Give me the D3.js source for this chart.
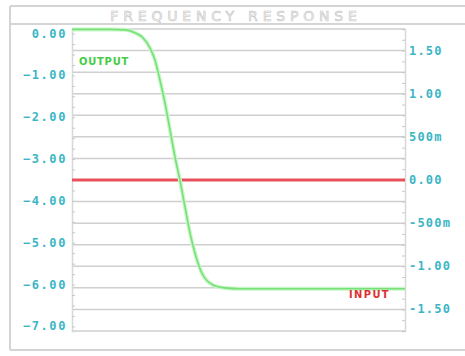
<!DOCTYPE html>
<html>
<head>
<meta charset="utf-8">
<script src="https://cdn.jsdelivr.net/npm/d3@7"></script>
<style>
  body { margin: 0; background: #fff; }
  svg { display: block; }
</style>
</head>
<body>
<script>
// frequency response data (x: Hz, log scale; output on left axis, input on right axis)
let freq = [10, 37, 63, 88, 116, 148, 176, 209, 249, 296, 352, 419, 498, 592, 703, 895, 1310, 1980, 3330, 1000000];
let output = [0.10, 0.10, 0.09, 0.02, -0.10, -0.34, -0.63, -1.11, -1.66, -2.30, -2.95, -3.52, -4.15, -4.77, -5.25, -5.73, -6.01, -6.08, -6.10, -6.10];
let inputFreq = [10, 1000000];
let input = [0, 0];

let leftTicks = [0, -1, -2, -3, -4, -5, -6, -7];
let rightTicks = [1.5, 1.0, 0.5, 0, -0.5, -1.0, -1.5];
let rightTickLabels = ["1.50", "1.00", "500m", "0.00", "-500m", "-1.00", "-1.50"];
let gridValues = d3.range(-1.75, 1.76, 0.25);

let svgWidth = 465,
    svgHeight = 356,
    plot = { left: 72, right: 405, top: 29, bottom: 331 };

let svg = d3.select("body").append("svg")
    .attr("width", svgWidth)
    .attr("height", svgHeight);

let x = d3.scaleLog().domain([10, 1000000]).range([plot.left, plot.right]);
let yLeft = d3.scaleLinear().domain([-7.11, 0.11]).range([plot.bottom, plot.top]);
let yRight = d3.scaleLinear().domain([-1.75, 1.75]).range([plot.bottom, plot.top]);

// outer frame
let frame = svg.append("g").attr("stroke", "#d4d4d4").attr("stroke-width", 2).attr("fill", "none");
frame.append("line").attr("x1", 10).attr("x2", 10).attr("y1", 6).attr("y2", 350);
frame.append("line").attr("x1", 10).attr("x2", svgWidth).attr("y1", 6).attr("y2", 6);
frame.append("line").attr("x1", 10).attr("x2", svgWidth).attr("y1", 24).attr("y2", 24);
frame.append("line").attr("x1", 10).attr("x2", svgWidth).attr("y1", 350).attr("y2", 350);

// title
svg.append("text")
    .attr("x", 236)
    .attr("y", 21)
    .attr("text-anchor", "middle")
    .style("font-family", "DejaVu Sans")
    .style("font-size", "14px")
    .style("letter-spacing", "4.8px")
    .attr("fill", "#f6f6f6")
    .attr("stroke", "#c4c4c4")
    .attr("stroke-width", 0.6)
    .text("FREQUENCY RESPONSE");

// grid lines
svg.append("g")
    .selectAll("line")
    .data(gridValues)
    .join("line")
    .attr("x1", plot.left)
    .attr("x2", plot.right)
    .attr("y1", d => yRight(d))
    .attr("y2", d => yRight(d))
    .attr("stroke", "#cfcfcf")
    .attr("stroke-width", 1.5);

// left axis
let leftAxis = d3.axisRight(yLeft)
    .tickValues(d3.range(-7, 0.11, 0.25))
    .tickSize(3)
    .tickFormat("");
let gl = svg.append("g")
    .attr("transform", "translate(" + plot.left + ",0)")
    .call(leftAxis);
gl.select(".domain").attr("stroke", "#d8d8d8").attr("stroke-width", 1.5);
gl.selectAll(".tick line").attr("stroke", "#c8c8c8");

svg.append("g")
    .selectAll("text")
    .data(leftTicks)
    .join("text")
    .attr("x", 67)
    .attr("y", d => yLeft(d) + 4)
    .attr("text-anchor", "end")
    .style("font-family", "DejaVu Sans Mono")
    .style("font-size", "12px")
    .style("font-weight", "bold")
    .style("letter-spacing", "1.6px")
    .attr("fill", "#3cb6c6")
    .text(d => d3.format(".2f")(d));

// right axis
let rightAxis = d3.axisLeft(yRight)
    .tickValues(d3.range(-1.75, 1.76, 0.125))
    .tickSize(3)
    .tickFormat("");
let gr = svg.append("g")
    .attr("transform", "translate(" + plot.right + ",0)")
    .call(rightAxis);
gr.select(".domain").attr("stroke", "#d8d8d8").attr("stroke-width", 1.5);
gr.selectAll(".tick line").attr("stroke", "#c8c8c8");

svg.append("g")
    .selectAll("text")
    .data(rightTicks)
    .join("text")
    .attr("x", 409)
    .attr("y", d => yRight(d) + 4)
    .style("font-family", "DejaVu Sans Mono")
    .style("font-size", "12px")
    .style("font-weight", "bold")
    .style("letter-spacing", "1.2px")
    .attr("fill", "#3cb6c6")
    .text((d, i) => rightTickLabels[i]);

// input line (red)
let inputLine = d3.line()
    .x((d, i) => x(inputFreq[i]))
    .y(d => yRight(d));
svg.append("path")
    .datum(input)
    .attr("d", inputLine)
    .attr("fill", "none")
    .attr("stroke", "#e8505c")
    .attr("stroke-width", 3);

// output curve (green)
let outputLine = d3.line()
    .x((d, i) => x(freq[i]))
    .y(d => yLeft(d))
    .curve(d3.curveMonotoneX);
svg.append("path")
    .datum(output)
    .attr("d", outputLine)
    .attr("fill", "none")
    .attr("stroke", "#c8f7c8")
    .attr("stroke-width", 4);
svg.append("path")
    .datum(output)
    .attr("d", outputLine)
    .attr("fill", "none")
    .attr("stroke", "#78e078")
    .attr("stroke-width", 1.6);

// series labels
svg.append("text")
    .attr("x", 79)
    .attr("y", 65)
    .style("font-family", "DejaVu Sans Condensed")
    .style("font-size", "11px")
    .style("font-weight", "bold")
    .style("letter-spacing", "0.8px")
    .attr("fill", "#44cc44")
    .text("OUTPUT");

svg.append("text")
    .attr("x", 349)
    .attr("y", 298)
    .style("font-family", "DejaVu Sans Condensed")
    .style("font-size", "11px")
    .style("font-weight", "bold")
    .style("letter-spacing", "1.4px")
    .attr("fill", "#dd3030")
    .text("INPUT");
</script>
</body>
</html>
